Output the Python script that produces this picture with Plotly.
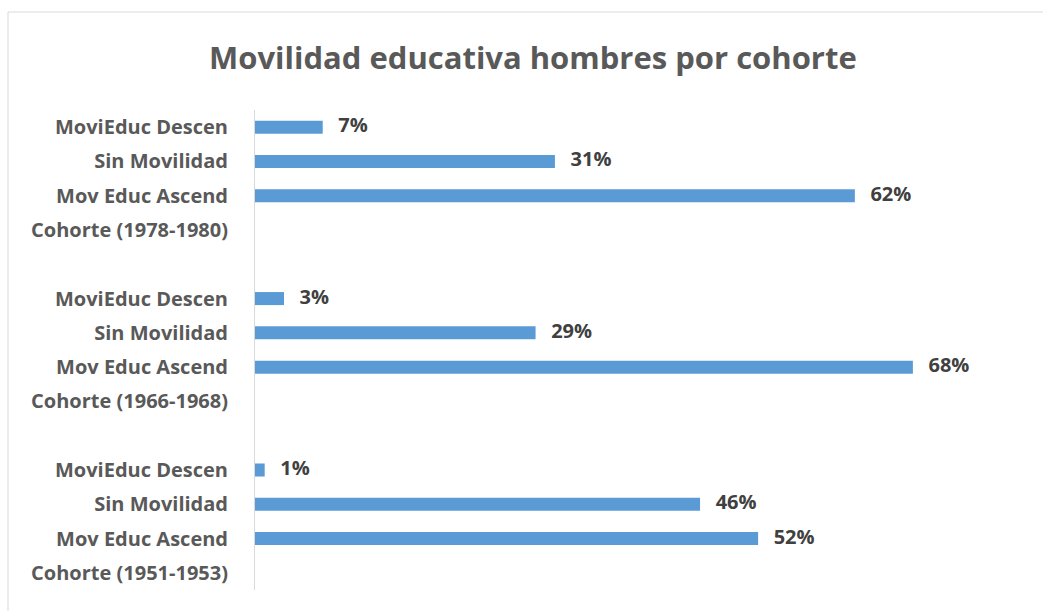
import plotly.graph_objects as go

# Category rows top to bottom (blank rows separate the cohorts)
row_labels = [
    "MoviEduc Descen", "Sin Movilidad", "Mov Educ Ascend", "Cohorte (1978-1980)", "",
    "MoviEduc Descen", "Sin Movilidad", "Mov Educ Ascend", "Cohorte (1966-1968)", "",
    "MoviEduc Descen", "Sin Movilidad", "Mov Educ Ascend", "Cohorte (1951-1953)",
]
# Shares per row (None = no bar)
shares = [
    0.07, 0.31, 0.62, None, None,
    0.03, 0.29, 0.68, None, None,
    0.01, 0.46, 0.52, None,
]

rows = list(range(len(row_labels)))
bar_rows = [r for r, v in zip(rows, shares) if v is not None]
bar_vals = [v for v in shares if v is not None]

FONT = "'Open Sans', sans-serif"

fig = go.Figure()
fig.add_trace(go.Bar(
    x=bar_vals, y=bar_rows, orientation="h", width=0.38,
    marker=dict(color="#5B9BD5", line=dict(width=0)),
    hoverinfo="skip",
))
# value labels just past each bar end
fig.add_trace(go.Scatter(
    x=bar_vals, y=bar_rows, mode="text",
    text=[f"{round(v * 100)}%" for v in bar_vals],
    texttemplate="   %{text}",
    textposition="middle right",
    textfont=dict(family=FONT, size=20, color="#404040", weight="bold"),
    hoverinfo="skip",
))

fig.update_layout(
    width=1043, height=611,
    margin=dict(l=255, r=14, t=110, b=21),
    paper_bgcolor="white", plot_bgcolor="white",
    showlegend=False,
    xaxis=dict(range=[0, 0.8], visible=False, fixedrange=True),
    yaxis=dict(
        range=[13.5, -0.5], tickmode="array", tickvals=rows, ticktext=row_labels,
        showline=True, linecolor="#d9d9d9", linewidth=1, showgrid=False,
        zeroline=False, ticks="", ticklabelstandoff=22,
        tickfont=dict(family=FONT, size=20, color="#595959", weight="bold"),
    ),
    annotations=[dict(
        text="Movilidad educativa hombres por cohorte",
        xref="paper", yref="paper", x=(533 - 255) / 774, y=(590 - 57) / 480,
        xanchor="center", yanchor="middle", showarrow=False,
        font=dict(family=FONT, size=31, color="#595959", weight="bold"),
    )],
    shapes=[dict(
        type="rect", xref="paper", yref="paper",
        x0=(8 - 255) / 774, x1=(1060 - 255) / 774,
        y0=(590 - 630) / 480, y1=(590 - 12) / 480,
        line=dict(color="#d9d9d9", width=1), fillcolor="rgba(0,0,0,0)",
    )],
)

fig.write_html("out.html")
